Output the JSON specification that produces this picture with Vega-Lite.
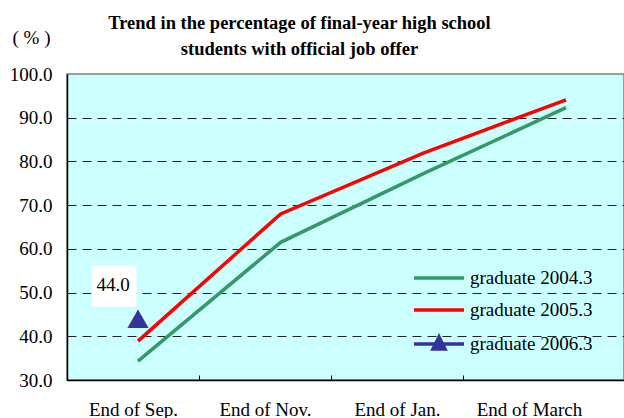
{
  "$schema": "https://vega.github.io/schema/vega-lite/v6.json",
  "autosize": {"type": "none"},
  "padding": {"left": 67, "top": 74, "right": 0, "bottom": 38},
  "width": 557,
  "height": 306,
  "background": "white",
  "title": {
    "text": ["Trend in the percentage of final-year high school", "students with official job offer"],
    "font": "Liberation Serif, Times New Roman, Times, DejaVu Serif, serif",
    "fontSize": 18.5,
    "fontWeight": "bold",
    "color": "black",
    "anchor": "middle",
    "frame": "group",
    "dx": -46,
    "offset": -30,
    "lineHeight": 26
  },
  "config": {
    "view": {"fill": "#CCFFFF", "stroke": "#808080", "strokeWidth": 1.5},
    "axis": {"labelFont": "Liberation Serif, Times New Roman, Times, DejaVu Serif, serif", "labelFontSize": 19, "labelColor": "black", "titleFont": "Liberation Serif, Times New Roman, Times, DejaVu Serif, serif"}
  },
  "datasets": {
    "rates": [
      {"month": "End of Sep.", "series": "graduate 2004.3", "value": 34.3},
      {"month": "End of Nov.", "series": "graduate 2004.3", "value": 61.5},
      {"month": "End of Jan.", "series": "graduate 2004.3", "value": 77.2},
      {"month": "End of March", "series": "graduate 2004.3", "value": 92.3},
      {"month": "End of Sep.", "series": "graduate 2005.3", "value": 38.9},
      {"month": "End of Nov.", "series": "graduate 2005.3", "value": 68.0},
      {"month": "End of Jan.", "series": "graduate 2005.3", "value": 81.9},
      {"month": "End of March", "series": "graduate 2005.3", "value": 94.1},
      {"month": "End of Sep.", "series": "graduate 2006.3", "value": 44.0}
    ]
  },
  "data": {"name": "rates"},
  "resolve": {"scale": {"x": "independent"}, "axis": {"x": "independent"}},
  "layer": [
    {
      "mark": {"type": "point", "opacity": 0},
      "encoding": {
        "x": {
          "field": "month",
          "type": "nominal",
          "scale": {"type": "band", "domain": ["End of Sep.", "End of Nov.", "End of Jan.", "End of March", "zzz"], "range": [0, 660], "paddingInner": 0, "paddingOuter": 0},
          "axis": {
            "orient": "bottom",
            "title": null,
            "values": ["End of Sep.", "End of Nov.", "End of Jan.", "End of March"],
            "labelAngle": 0,
            "tickBand": "center",
            "tickOffset": -66,
            "labelOffset": 66,
            "tickSize": -5,
            "tickColor": "black",
            "domainColor": "black",
            "domainWidth": 1.5,
            "labelPadding": 25,
            "grid": false
          }
        },
        "y": {
          "field": "value",
          "type": "quantitative",
          "scale": {"domain": [30, 100], "nice": false, "zero": false},
          "axis": {
            "values": [30, 40, 50, 60, 70, 80, 90, 100],
            "format": ".1f",
            "title": "( % )",
            "titleAngle": 0,
            "titleX": -36,
            "titleY": -37,
            "titleAlign": "center",
            "titleBaseline": "middle",
            "titleFontSize": 19,
            "titleFontWeight": "normal",
            "titleColor": "black",
            "ticks": false,
            "labelPadding": 15,
            "domainColor": "black",
            "domainWidth": 1.5,
            "grid": true,
            "gridColor": "#222222",
            "gridDash": [9, 6],
            "gridOpacity": {"condition": {"test": "datum.value == 30 || datum.value == 100", "value": 0}, "value": 1}
          }
        }
      }
    },
    {
      "encoding": {
        "x": {
          "field": "month",
          "type": "nominal",
          "scale": {"type": "point", "domain": ["End of Sep.", "End of Nov.", "End of Jan.", "End of March"], "range": [71, 499], "padding": 0},
          "axis": null
        },
        "y": {"field": "value", "type": "quantitative"}
      },
      "layer": [
        {
          "mark": {"type": "line", "strokeWidth": 3.5},
          "encoding": {
            "color": {
              "field": "series",
              "type": "nominal",
              "scale": {
                "domain": ["graduate 2004.3", "graduate 2005.3", "graduate 2006.3"],
                "range": ["#339966", "#FF0000", "#333399"]
              },
              "legend": {
                "title": null,
                "orient": "none",
                "legendX": 360,
                "legendY": 192,
                "padding": 0,
                "rowPadding": 10,
                "labelFont": "Liberation Serif, Times New Roman, Times, DejaVu Serif, serif",
                "labelFontSize": 19,
                "labelColor": "black",
                "labelOffset": 19,
                "symbolSize": 400,
                "symbolStrokeWidth": 3.5,
                "encode": {
                  "symbols": {
                    "update": {
                      "shape": {"signal": "datum.value === 'graduate 2006.3' ? 'M-2.5,0H2.5M-0.6,0.5L0.6,0.5L0,-0.7Z' : 'M-2.5,0H2.5'"},
                      "fill": {"value": "#333399"},
                      "fillOpacity": {"value": 1}
                    }
                  }
                }
              }
            }
          }
        },
        {
          "transform": [{"filter": "datum.series === 'graduate 2006.3'"}],
          "mark": {"type": "point", "shape": "triangle-up", "filled": true, "color": "#333399", "size": 450, "opacity": 1}
        },
        {
          "transform": [{"filter": "datum.series === 'graduate 2006.3'"}],
          "mark": {"type": "point", "shape": "M-1.1,-1L1.1,-1L1.1,1L-1.1,1Z", "filled": true, "color": "white", "size": 1681, "opacity": 1, "strokeWidth": 0, "xOffset": -24, "yOffset": -32.5}
        },
        {
          "transform": [{"filter": "datum.series === 'graduate 2006.3'"}],
          "mark": {"type": "text", "font": "Liberation Serif, Times New Roman, Times, DejaVu Serif, serif", "fontSize": 19, "color": "black", "align": "center", "baseline": "middle", "xOffset": -25, "yOffset": -34},
          "encoding": {
            "text": {"field": "value", "type": "quantitative", "format": ".1f"}
          }
        }
      ]
    }
  ]
}
